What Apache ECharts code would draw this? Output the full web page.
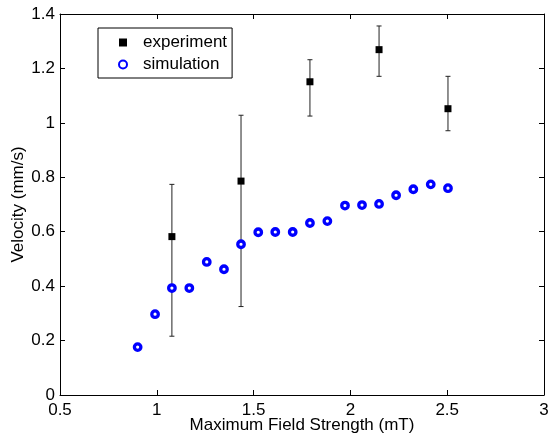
<!DOCTYPE html>
<html>
<head>
<meta charset="utf-8">
<script src="https://cdn.jsdelivr.net/npm/echarts@6/dist/echarts.min.js"></script>
<style>
  html, body { margin: 0; padding: 0; background: #fff; }
  #chart { width: 548px; height: 438px; }
</style>
</head>
<body>
<div id="chart"></div>
<script>
// 实验数据 (with error bars)
var expField = [1.078, 1.435, 1.791, 2.148, 2.504]
var expVelocity = [0.582, 0.786, 1.151, 1.269, 1.052]
var expLow = [0.216, 0.325, 1.025, 1.171, 0.971]
var expHigh = [0.774, 1.028, 1.232, 1.356, 1.171]

// 模拟数据
var simField = [0.901, 0.991, 1.078, 1.168, 1.258, 1.347, 1.435, 1.524, 1.612, 1.702,
  1.791, 1.881, 1.972, 2.060, 2.148, 2.236, 2.325, 2.415, 2.504]
var simVelocity = [0.176, 0.297, 0.393, 0.393, 0.489, 0.462, 0.554, 0.598, 0.599, 0.599,
  0.632, 0.639, 0.696, 0.698, 0.702, 0.734, 0.756, 0.774, 0.760]

var xTicks = { min: 0.5, max: 3, interval: 0.5 }
var yTicks = { min: 0, max: 1.4, interval: 0.2 }

var font = 'Liberation Sans, Arial, sans-serif'

var chart = echarts.init(document.getElementById('chart'))

var expData = expField.map(function (x, i) { return [x, expVelocity[i]] })
var simData = simField.map(function (x, i) { return [x, simVelocity[i]] })
var errData = expField.map(function (x, i) { return [x, expLow[i], expHigh[i]] })

// 共用的坐标轴样式
function boxAxis(extra) {
  return Object.assign({
    type: 'value',
    axisLine: { show: true, onZero: false, lineStyle: { color: '#000', width: 1 } },
    axisTick: { show: true, inside: true, length: 5, lineStyle: { color: '#000' } },
    splitLine: { show: false },
    axisLabel: { show: false }
  }, extra)
}

var option = {
  animation: false,
  backgroundColor: '#fff',
  grid: { left: 60, right: 4, top: 14, bottom: 43, containLabel: false, outerBoundsMode: 'none' },
  legend: {
    data: ['experiment', 'simulation'],
    orient: 'vertical',
    left: 98,
    top: 28,
    width: 134,
    padding: [6, 5, 5, 20],
    itemGap: 5,
    itemWidth: 8,
    itemHeight: 8,
    borderColor: '#000',
    borderWidth: 1,
    backgroundColor: '#fff',
    textStyle: { color: '#000', fontFamily: font, fontSize: 17, padding: [0, 0, 0, 11] }
  },
  xAxis: [
    boxAxis({
      min: xTicks.min, max: xTicks.max, interval: xTicks.interval,
      position: 'bottom',
      name: 'Maximum Field Strength (mT)',
      nameLocation: 'middle',
      nameGap: 22,
      nameMoveOverlap: false,
      nameTextStyle: { color: '#000', fontFamily: font, fontSize: 17 },
      axisLabel: { show: true, color: '#000', fontFamily: font, fontSize: 17, margin: 7 }
    }),
    boxAxis({ min: xTicks.min, max: xTicks.max, interval: xTicks.interval, position: 'top' })
  ],
  yAxis: [
    boxAxis({
      min: yTicks.min, max: yTicks.max, interval: yTicks.interval,
      position: 'left',
      name: 'Velocity (mm/s)',
      nameLocation: 'middle',
      nameGap: 33,
      nameMoveOverlap: false,
      nameTextStyle: { color: '#000', fontFamily: font, fontSize: 17 },
      axisLabel: { show: true, color: '#000', fontFamily: font, fontSize: 17, margin: 5 }
    }),
    boxAxis({ min: yTicks.min, max: yTicks.max, interval: yTicks.interval, position: 'right' })
  ],
  series: [
    {
      // 误差棒
      name: 'errorbar',
      type: 'custom',
      z: 2,
      data: errData,
      renderItem: function (params, api) {
        var x = api.value(0)
        var lo = api.coord([x, api.value(1)])
        var hi = api.coord([x, api.value(2)])
        var cap = 2.5
        var style = { stroke: '#222', lineWidth: 1 }
        return {
          type: 'group',
          children: [
            { type: 'line', shape: { x1: lo[0], y1: lo[1], x2: hi[0], y2: hi[1] }, style: style },
            { type: 'line', shape: { x1: hi[0] - cap, y1: hi[1], x2: hi[0] + cap, y2: hi[1] }, style: style },
            { type: 'line', shape: { x1: lo[0] - cap, y1: lo[1], x2: lo[0] + cap, y2: lo[1] }, style: style }
          ]
        }
      }
    },
    {
      name: 'experiment',
      type: 'scatter',
      z: 4,
      symbol: 'rect',
      symbolSize: 7,
      itemStyle: { color: '#000', opacity: 1 },
      data: expData
    },
    {
      name: 'simulation',
      type: 'scatter',
      z: 3,
      symbol: 'circle',
      symbolSize: 6.5,
      itemStyle: { color: '#fff', borderColor: '#0000ff', borderWidth: 3.3, opacity: 1 },
      data: simData
    }
  ]
}
chart.setOption(option)
</script>
</body>
</html>
